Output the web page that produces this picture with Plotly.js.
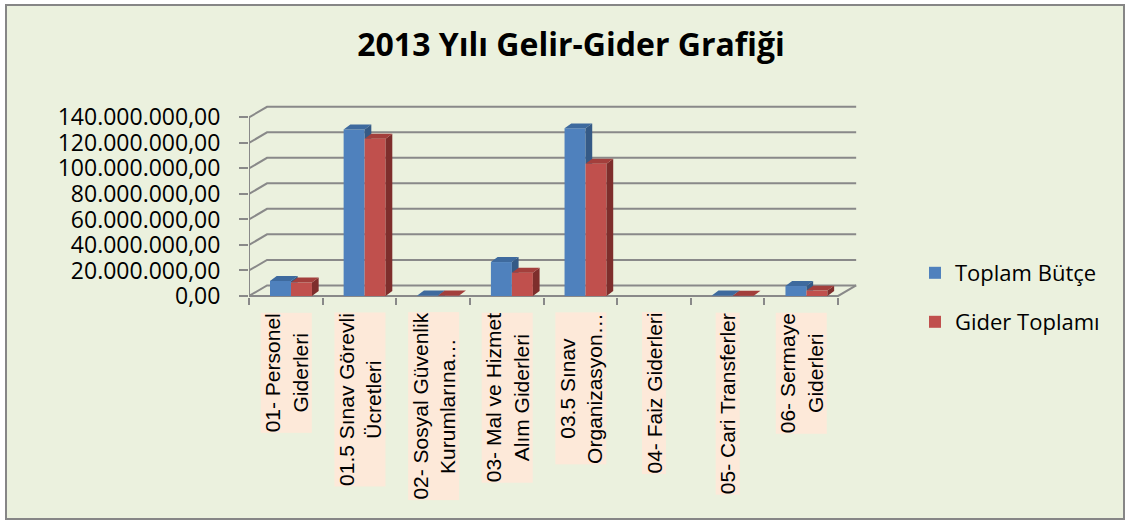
<!DOCTYPE html>
<html><head><meta charset="utf-8">
<script src="https://cdn.plot.ly/plotly-3.0.1.min.js"></script>
<style>html,body{margin:0;padding:0;background:#fff}#chart{width:1130px;height:524px}</style>
</head><body><div id="chart"></div>
<script>
// ---- data ----
const categories = ['01- Personel Giderleri', '01.5 Sınav Görevli Ücretleri', '02- Sosyal Güvenlik Kurumlarına...', '03- Mal ve Hizmet Alım Giderleri', '03.5 Sınav Organizasyon...', '04- Faiz Giderleri', '05- Cari Transferler', '06- Sermaye Giderleri'];
const tickLabels = ['01- Personel<br>Giderleri', '01.5 Sınav Görevli<br>Ücretleri', '02- Sosyal Güvenlik<br>Kurumlarına…', '03- Mal ve Hizmet<br>Alım Giderleri', '03.5 Sınav<br>Organizasyon…', '04- Faiz Giderleri', '05- Cari Transferler', '06- Sermaye<br>Giderleri'];
const seriesNames = ['Toplam Bütçe', 'Gider Toplamı'];
const toplamButce = [11800000, 130600000, 350000, 26600000, 131400000, 0, 300000, 7800000];
const giderToplami = [10500000, 123300000, 300000, 18300000, 103700000, 0, 250000, 4200000];
const yTicks = [0, 20000000, 40000000, 60000000, 80000000, 100000000, 120000000, 140000000];
const titleText = '2013 Yılı Gelir-Gider Grafiği';

// ---- geometry / style ----
const W = 1130, H = 524;
const xRange = [-0.5, 7.77], yRange = [-0.8e6, 150.5e6];
const xDom = [249 / W, 858 / W], yDom = [1 - 297 / H, 1 - 104 / H];
const barW = 0.285, shift = 0.07;
const wallDX = 0.245, wallDY = 8.3e6;   // depth of back wall
const bdx = 0.091, bdy = 3.9e6;         // depth of bars
const gridColor = '#898989';
const colors = {blue: '#4F81BD', blueTop: '#3E6A9E', blueSide: '#355A86', red: '#C0504D', redTop: '#A33F3C', redSide: '#7E2E2C'};
const idx = categories.map((c, i) => i);
const nCat = categories.length;

// grid lines (3D back wall)
const gx = [], gy = [];
yTicks.forEach(t => { gx.push(xRange[0], xRange[0] + wallDX, nCat - 0.5 + wallDX, null); gy.push(t, t + wallDY, t + wallDY, null); });
gx.push(xRange[0], xRange[0], null); gy.push(0, yTicks[yTicks.length - 1], null);
gx.push(xRange[0], nCat - 0.5, nCat - 0.5 + wallDX, null); gy.push(0, 0, wallDY, null);

function topFaces(vals, off) {
  const x = [], y = [];
  vals.forEach((v, i) => {
    if (v <= 0) return;
    const xl = i + off, xr = xl + barW;
    x.push(xl, xl + bdx, xr + bdx, xr, xl, null);
    y.push(v, v + bdy, v + bdy, v, v, null);
  });
  return {x, y};
}
function sideFaces(vals, off, front) {
  const x = [], y = [];
  vals.forEach((v, i) => {
    if (v <= 0) return;
    const xr = i + off + barW;
    const lo = front ? Math.max(front[i], 0) : 0;
    if (v <= lo) return;
    const loBack = front ? lo : bdy;
    x.push(xr, xr + bdx, xr + bdx, xr, xr, null);
    y.push(lo, loBack, v + bdy, v, lo, null);
  });
  return {x, y};
}
const blueOff = -barW + shift, redOff = shift;
const bTop = topFaces(toplamButce, blueOff), bSide = sideFaces(toplamButce, blueOff, giderToplami);
const rTop = topFaces(giderToplami, redOff), rSide = sideFaces(giderToplami, redOff, null);
function face(f, color) {
  return {type: 'scatter', mode: 'lines', x: f.x, y: f.y, xaxis: 'x2', yaxis: 'y2', fill: 'toself', fillcolor: color, line: {width: 0, color: color}, hoverinfo: 'skip', showlegend: false};
}

const data = [
  {type: 'scatter', mode: 'lines', x: gx, y: gy, xaxis: 'x', yaxis: 'y', line: {color: gridColor, width: 2}, hoverinfo: 'skip', showlegend: false, cliponaxis: false},
  {type: 'bar', name: seriesNames[0], x: idx, y: toplamButce, xaxis: 'x2', yaxis: 'y2', width: barW, offset: blueOff, marker: {color: colors.blue, line: {width: 0}}, legend: 'legend'},
  {type: 'bar', name: seriesNames[1], x: idx, y: giderToplami, xaxis: 'x2', yaxis: 'y2', width: barW, offset: redOff, marker: {color: colors.red, line: {width: 0}}, legend: 'legend2'},
  face(bTop, colors.blueTop), face(bSide, colors.blueSide), face(rSide, colors.redSide), face(rTop, colors.redTop)
];

const hiddenX = {domain: xDom, range: xRange, visible: false, fixedrange: true};
const hiddenY = {domain: yDom, range: yRange, visible: false, fixedrange: true};
const annotations = tickLabels.map((t, i) => ({
  x: i, xref: 'x2', y: 1 - 312 / H, yref: 'paper', xanchor: 'center', yanchor: 'top',
  text: t, textangle: -90, showarrow: false, align: 'center', bgcolor: '#FDE9D9', borderpad: 0,
  font: {family: 'Liberation Sans, Arial, sans-serif', size: 21, color: '#000'}
}));

const layout = {
  width: W, height: H, margin: {l: 0, r: 0, t: 0, b: 0},
  paper_bgcolor: '#ffffff', plot_bgcolor: 'rgba(0,0,0,0)',
  separators: ',.', hovermode: false, barmode: 'overlay',
  title: {text: titleText, x: 571 / W, xanchor: 'center', xref: 'paper', y: 1 - 45 / H, yanchor: 'middle', yref: 'paper',
    font: {family: 'Open Sans, sans-serif', size: 32, color: '#000', weight: 700}},
  xaxis: hiddenX, yaxis: hiddenY,
  xaxis2: {domain: xDom, range: xRange, anchor: 'y2', type: 'linear', showgrid: false, zeroline: false, showline: false,
    tickmode: 'array', tickvals: categories.map((c, i) => i - 0.5).concat([nCat - 0.5]), ticktext: categories.map(() => '').concat(['']),
    ticks: 'outside', ticklen: 7, tickwidth: 2, tickcolor: gridColor, showticklabels: false, fixedrange: true},
  yaxis2: {domain: yDom, range: yRange, anchor: 'x2', showgrid: false, zeroline: false, showline: false,
    tickmode: 'array', tickvals: yTicks, tickformat: ',.2f', ticks: 'outside', ticklen: 9, tickwidth: 2, tickcolor: gridColor,
    ticklabelstandoff: 14, tickfont: {family: 'Open Sans, sans-serif', size: 23, color: '#000'}, fixedrange: true},
  legend: {x: 915 / W, xanchor: 'left', y: 1 - 273 / H, yanchor: 'middle', bgcolor: 'rgba(0,0,0,0)',
    font: {family: 'Open Sans, sans-serif', size: 22, color: '#000'}},
  legend2: {x: 915 / W, xanchor: 'left', y: 1 - 322 / H, yanchor: 'middle', bgcolor: 'rgba(0,0,0,0)',
    font: {family: 'Open Sans, sans-serif', size: 22, color: '#000'}},
  shapes: [{type: 'rect', xref: 'paper', yref: 'paper', x0: 6 / W, x1: 1124 / W, y0: 1 - 519 / H, y1: 1 - 5 / H,
    line: {color: '#868686', width: 2}, fillcolor: '#EBF1DE', layer: 'below'}],
  annotations: annotations
};
Plotly.newPlot('chart', data, layout, {staticPlot: true, displayModeBar: false});
</script></body></html>
